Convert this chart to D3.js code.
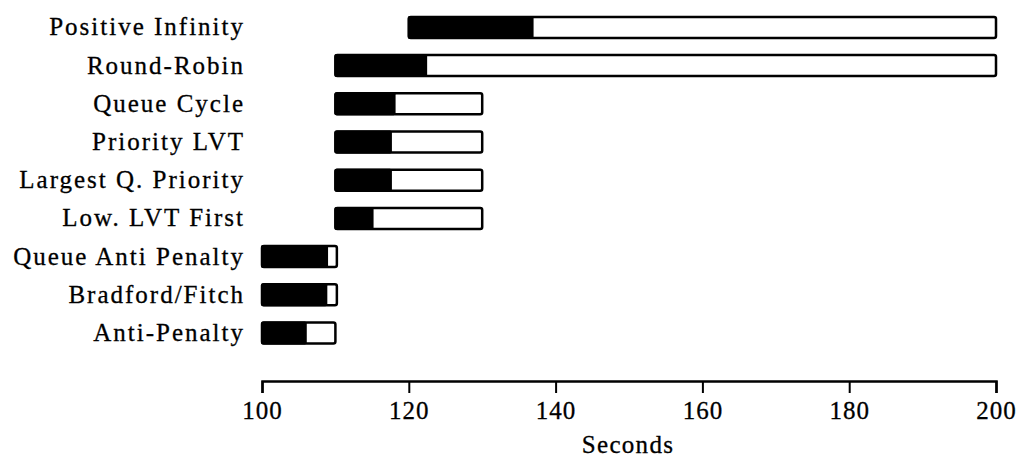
<!DOCTYPE html>
<html>
<head>
<meta charset="utf-8">
<script src="https://cdn.jsdelivr.net/npm/d3@7"></script>
<style>
  body { margin: 0; background: #fff; }
  svg { display: block; }
  .lbl { font-family: "Liberation Serif", serif; font-size: 25px; fill: #000;
         letter-spacing: 2px; stroke: #000; stroke-width: 0.3px; }
  .axis text { font-family: "Liberation Serif", serif; font-size: 25px; fill: #000;
         letter-spacing: 1px; stroke: #000; stroke-width: 0.3px; }
</style>
</head>
<body>
<svg></svg>
<script>
// categories, top to bottom
let strategies = ['Positive Infinity', 'Round-Robin', 'Queue Cycle', 'Priority LVT',
  'Largest Q. Priority', 'Low. LVT First', 'Queue Anti Penalty', 'Bradford/Fitch', 'Anti-Penalty'];

// bar start, end of black part, end of white part (seconds)
let startTime = [120, 110, 110, 110, 110, 110, 100, 100, 100];
let blackEnd  = [137, 122.5, 118.2, 117.7, 117.7, 115.2, 109, 108.9, 106.1];
let whiteEnd  = [200, 200, 130, 130, 130, 130, 110.2, 110.2, 110];

// axis ticks
let xTicks = [100, 120, 140, 160, 180, 200];

let width = 1025;
let height = 472;

let svg = d3.select('svg')
  .attr('width', width)
  .attr('height', height);

let data = strategies.map((s, i) => ({
  name: s, start: startTime[i], black: blackEnd[i], end: whiteEnd[i]
}));

//scales
let xScale = d3.scaleLinear().domain([100, 200]).range([262, 996]);
let yScale = d3.scalePoint().domain(strategies).range([27.4, 333]);
let barH = 21;

//outline (white part)
svg.selectAll('rect.outer')
  .data(data)
  .enter()
  .append('rect')
  .attr('class', 'outer')
  .attr('x', d => xScale(d.start))
  .attr('y', d => yScale(d.name) - barH / 2)
  .attr('width', d => xScale(d.end) - xScale(d.start))
  .attr('height', barH)
  .attr('rx', 2)
  .attr('fill', '#fff')
  .attr('stroke', '#000')
  .attr('stroke-width', 2.5);

//black part
svg.selectAll('rect.inner')
  .data(data)
  .enter()
  .append('rect')
  .attr('class', 'inner')
  .attr('x', d => xScale(d.start) - 1)
  .attr('y', d => yScale(d.name) - barH / 2 - 1)
  .attr('width', d => xScale(d.black) - xScale(d.start) + 1)
  .attr('height', barH + 2)
  .attr('rx', 2)
  .attr('fill', '#000');

//category labels
svg.selectAll('text.lbl')
  .data(data)
  .enter()
  .append('text')
  .attr('class', 'lbl')
  .attr('x', 245)
  .attr('y', d => yScale(d.name))
  .attr('dy', '0.32em')
  .attr('text-anchor', 'end')
  .text(d => d.name);

//x axis
let xAxis = d3.axisBottom(xScale)
  .tickValues(xTicks)
  .tickSize(12)
  .tickSizeOuter(12)
  .tickPadding(8)
  .tickFormat(d3.format('d'));

let gx = svg.append('g')
  .attr('class', 'axis')
  .attr('transform', 'translate(0,381)')
  .call(xAxis);
gx.select('.domain').attr('stroke-width', 2.5);
gx.selectAll('.tick line').attr('stroke-width', 2);

svg.append('text')
  .attr('class', 'lbl')
  .attr('x', 628)
  .attr('y', 453)
  .attr('text-anchor', 'middle')
  .style('letter-spacing', '1.3px')
  .text('Seconds');
</script>
</body>
</html>
